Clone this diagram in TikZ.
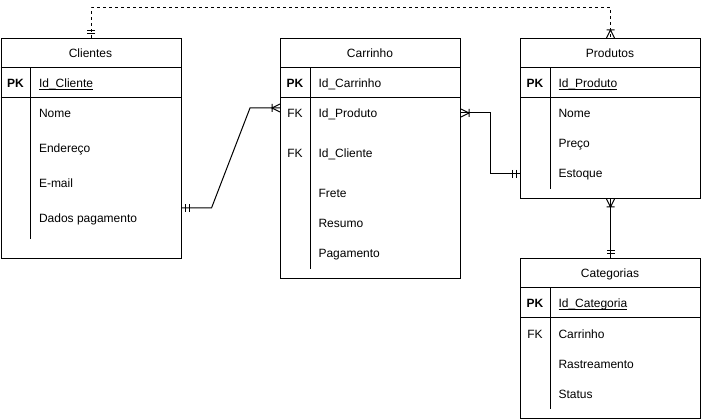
\documentclass[tikz,border=0pt]{standalone}
\usepackage{fontspec}
\setmainfont{Liberation Sans}
\usetikzlibrary{decorations.markings}

\newcommand{\idline}[1]{\setbox0\hbox{#1}\rlap{\rule[-1.8pt]{\wd0}{0.9pt}}\box0}

\tikzset{
  tbl/.style={draw,rectangle,anchor=north west,minimum width=180pt,inner sep=0pt},
  fld/.style={anchor=base west,inner sep=0pt},
  keycol/.style={anchor=base,inner sep=0pt,font=\fontsize{12}{14}\selectfont\bfseries},
  ttl/.style={anchor=base,inner sep=0pt},
  onestart/.style={postaction={decorate,decoration={markings,
      mark=at position 4pt with {\draw[solid] (0,-4pt) -- (0,4pt);},
      mark=at position 7.5pt with {\draw[solid] (0,-4pt) -- (0,4pt);}}}},
  manyend/.style={postaction={decorate,decoration={markings,
      mark=at position -8pt with {\draw[solid] (0,-4pt) -- (0,4pt) (8pt,4pt) -- (0,0) -- (8pt,-4pt);}}}}
}

\begin{document}
\begin{tikzpicture}[x=1pt,y=-1pt,line width=1pt,font=\fontsize{12}{14}\selectfont]
                    \useasboundingbox (0,0) rectangle (701,419);
                    \node[tbl,minimum height=220pt] (cli) at (0.5,38) {};
                    \node[tbl,minimum height=240pt] (car) at (280,38) {};
                    \node[tbl,minimum height=160pt] (pro) at (520,38) {};
                    \node[tbl,minimum height=160pt] (cat) at (520,258) {};
                    \foreach \t/\s in {cli/20,car/10,pro/10,cat/10} {
                        \draw ([yshift=-30pt]\t.north west) -- ([yshift=-30pt]\t.north east);
                        \draw ([yshift=-60pt]\t.north west) -- ([yshift=-60pt]\t.north east);
                        \draw ([xshift=30pt,yshift=-30pt]\t.north west) -- ([xshift=30pt,yshift=\s pt]\t.south west);
                    }
                    \node[ttl] (cli-t) at (90.5,58) {Clientes};
                    \node[ttl] (car-t) at (370,58) {Carrinho};
                    \node[ttl] (pro-t) at (610,58) {Produtos};
                    \node[ttl] (cat-t) at (610,278) {Categorias};
                    \node[keycol] (cli-pk) at (15.5,88) {PK};
                    \node[keycol] (car-pk) at (295,88) {PK};
                    \node[keycol] (pro-pk) at (535,88) {PK};
                    \node[keycol] (cat-pk) at (535,308) {PK};
                    \node[ttl] (car-fk1) at (295,118) {FK};
                    \node[ttl] (car-fk2) at (295,158) {FK};
                    \node[ttl] (cat-fk1) at (535,338) {FK};
                    \foreach \y/\t [count=\i] in {88/{\idline{Id\_Cliente}},118/Nome,153/Endereço,188/E-mail,223/Dados pagamento}
                        \node[fld] (cli-\i) at (38.5,\y) {\t};
                    \foreach \y/\t [count=\i] in {88/Id\_Carrinho,118/Id\_Produto,158/Id\_Cliente,198/Frete,228/Resumo,258/Pagamento}
                        \node[fld] (car-\i) at (318,\y) {\t};
                    \foreach \y/\t [count=\i] in {88/{\idline{Id\_Produto}},118/Nome,148/Preço,178/Estoque}
                        \node[fld] (pro-\i) at (558,\y) {\t};
                    \foreach \y/\t [count=\i] in {308/{\idline{Id\_Categoria}},338/Carrinho,368/Rastreamento,398/Status}
                        \node[fld] (cat-\i) at (558,\y) {\t};
                    \draw[onestart,manyend] ([yshift=-170pt]cli.north east) -- ++(30,0) -- ([xshift=-30pt,yshift=-70pt]car.north west) -- ([yshift=-70pt]car.north west);
                    \draw[onestart,manyend] ([yshift=-136pt]pro.north west) -- ++(-30,0) |- ([yshift=-75pt]car.north east);
                    \draw[onestart,manyend] (cat.north) -- (pro.south);
                    \draw[dashed,onestart,manyend] (cli.north) -- ++(0,-30) -| (pro.north);
                \end{tikzpicture}
\end{document}
